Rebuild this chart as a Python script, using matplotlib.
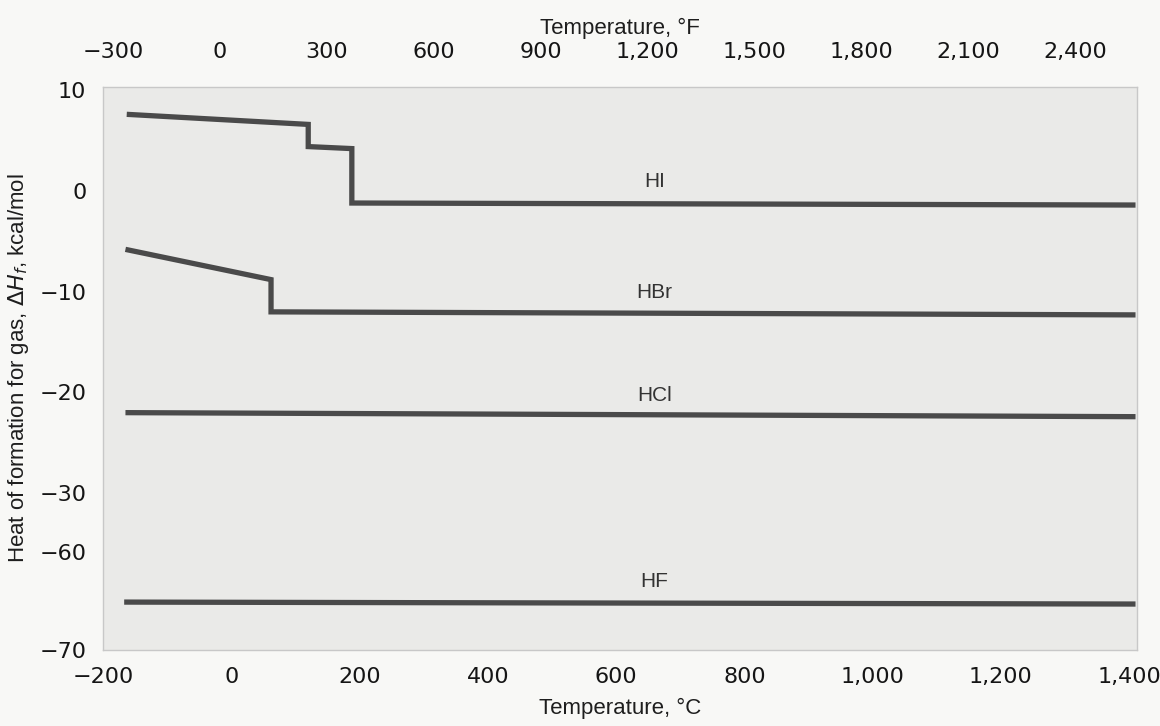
import numpy as np
import matplotlib.pyplot as plt
from matplotlib.ticker import FixedLocator

# Curves (deg C, kcal/mol)
temp_hi = [-163, 120, 120, 188, 188, 1410]
dh_hi = [7.6, 6.6, 4.4, 4.2, -1.2, -1.4]
temp_hbr = [-165, 62, 62, 1410]
dh_hbr = [-5.8, -8.8, -12.0, -12.3]
temp_hcl = [-165, 1410]
dh_hcl = [-22.0, -22.4]
temp_hf = [-167, 1410]
dh_hf = [-65.1, -65.3]

curve_names = ['HI', 'HBr', 'HCl', 'HF']
label_y = [0.9, -10.1, -20.3, -63.0]
label_x = 660

c_ticks = [-200, 0, 200, 400, 600, 800, 1000, 1200, 1400]
f_ticks = [-300, 0, 300, 600, 900, 1200, 1500, 1800, 2100, 2400]
y_ticks = [10, 0, -10, -20, -30, -60, -70]


def fmt(v):
    s = f'{abs(v):,}'
    return '\u2212' + s if v < 0 else s


# broken y axis: -30 .. -60 is squeezed
def fwd(y):
    y = np.asarray(y, dtype=float)
    return np.where(y >= -30, y,
                    np.where(y >= -60, -30 + (y + 30) * 0.195, -35.85 + (y + 60) * 0.97))


def inv(t):
    t = np.asarray(t, dtype=float)
    return np.where(t >= -30, t,
                    np.where(t >= -35.85, -30 + (t + 30) / 0.195, -60 + (t + 35.85) / 0.97))


def c2f(c):
    return np.asarray(c, dtype=float) * 9 / 5 + 32


def f2c(f):
    return (np.asarray(f, dtype=float) - 32) * 5 / 9


tick_font = ['Liberation Sans Narrow', 'DejaVu Sans']
text_font = ['Liberation Sans', 'DejaVu Sans']
line_col = '#4a4a4a'

fig = plt.figure(figsize=(11.6, 7.26), dpi=100, facecolor='#f8f8f6')
ax = fig.add_axes([0.0888, 0.1047, 0.8912, 0.7753])
ax.set_facecolor('#eaeae8')
ax.set_yscale('function', functions=(fwd, inv))
ax.set_xlim(-200, 1412)
ax.set_ylim(-70, 10.3)

for xs, ys in [(temp_hi, dh_hi), (temp_hbr, dh_hbr), (temp_hcl, dh_hcl), (temp_hf, dh_hf)]:
    ax.plot(xs, ys, color=line_col, lw=3.8, solid_capstyle='butt', solid_joinstyle='miter')

for name, yy in zip(curve_names, label_y):
    ax.text(label_x, yy, name, ha='center', va='center', fontsize=15, color='#333333',
            family=text_font)

for s in ax.spines.values():
    s.set_color('#c8c8c8')
    s.set_linewidth(1.0)

ax.yaxis.set_major_locator(FixedLocator(y_ticks))
ax.set_yticklabels([fmt(v) for v in y_ticks])
ax.yaxis.set_minor_locator(FixedLocator([]))
ax.set_xticks(c_ticks)
ax.set_xticklabels([fmt(v) for v in c_ticks])
ax.tick_params(axis='both', length=0, labelsize=16, colors='#151515')
ax.tick_params(axis='y', pad=12)
ax.tick_params(axis='x', pad=12)
for lab in ax.get_xticklabels() + ax.get_yticklabels():
    lab.set_family(tick_font)

top = ax.secondary_xaxis('top', functions=(c2f, f2c))
top.set_xticks(f_ticks)
top.set_xticklabels([fmt(v) for v in f_ticks])
top.tick_params(length=0, labelsize=16, colors='#151515', pad=18)
for lab in top.get_xticklabels():
    lab.set_family(tick_font)
top.spines['top'].set_visible(False)

ax.set_xlabel('Temperature, \u00b0C', fontsize=16, color='#1e1e1e', labelpad=8,
              family=text_font)
top.set_xlabel('Temperature, \u00b0F', fontsize=16, color='#1e1e1e', labelpad=6,
               family=text_font)
ax.set_ylabel('Heat of formation for gas, $\\Delta H_f$, kcal/mol', fontsize=16, color='#1e1e1e',
              labelpad=6, family=text_font)

fig.savefig('out.png', dpi=100, facecolor=fig.get_facecolor())
